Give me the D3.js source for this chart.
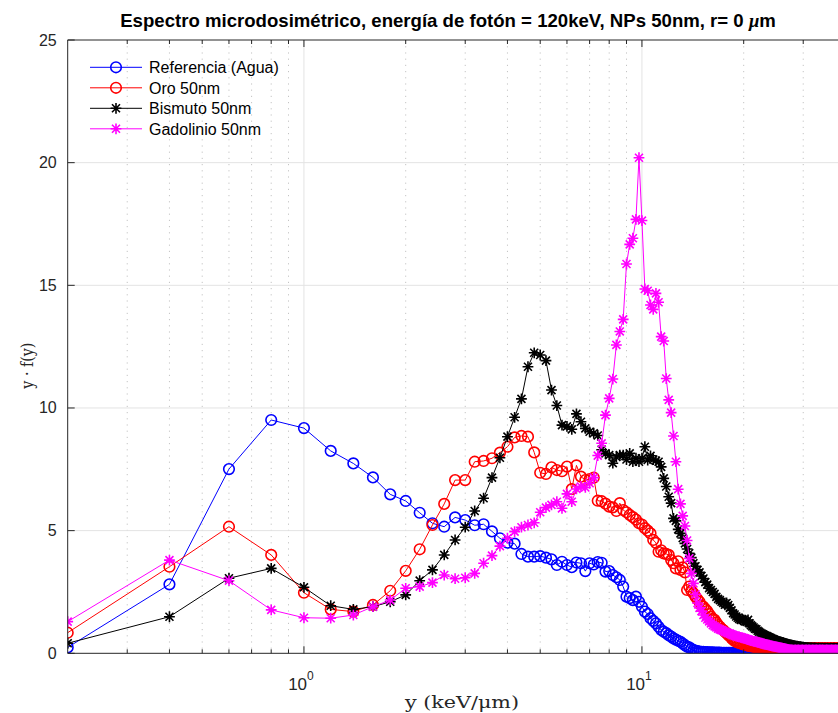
<!DOCTYPE html>
<html>
<head>
<meta charset="utf-8">
<script src="https://cdn.jsdelivr.net/npm/d3@7/dist/d3.min.js"></script>
<style>
  html, body { margin: 0; padding: 0; background: #ffffff; }
  svg { display: block; }
</style>
</head>
<body>
<svg id="chart" width="838" height="713"></svg>
<script>
// Lineal energy bins: 0.2 keV/µm wide, starting at 0.2
const binWidth = 0.2;
const binCount = 200;
const lineal = d3.range(1, binCount + 1).map(k => +(k * binWidth).toFixed(1));

// y·f(y) for each bin
const referenciaAgua = [
  0.24, 2.81, 7.51, 9.51, 9.18, 8.25, 7.74, 7.17, 6.48, 6.21,
  5.73, 5.30, 5.16, 5.54, 5.43, 5.22, 5.26, 4.97, 4.69, 4.51,
  4.47, 4.05, 3.94, 3.94, 3.96, 3.90, 3.83, 3.60, 3.73, 3.60,
  3.51, 3.70, 3.67, 3.35, 3.67, 3.62, 3.72, 3.69, 3.33, 3.35,
  3.19, 3.10, 2.99, 2.72, 2.31, 2.25, 2.17, 2.31, 2.10, 1.90,
  1.70, 1.60, 1.43, 1.32, 1.22, 1.08, 0.95, 0.88, 0.82, 0.74,
  0.68, 0.61, 0.56, 0.51, 0.47, 0.40, 0.33, 0.27, 0.24, 0.18,
  0.13, 0.11, 0.09, 0.07, 0.06, 0.06, 0.05, 0.05, 0.04, 0.04,
  0.04, 0.03, 0.03, 0.03, 0.03, 0.02, 0.02, 0.02, 0.02, 0.02,
  0.02, 0.02, 0.01, 0.02, 0.01, 0.01, 0.01, 0.01, 0.01, 0.01,
  0.01, 0.01, 0.01, 0.00, 0.01, 0.01, 0.00, 0.01, 0.00, 0.00,
  0.01, 0.00, 0.00, 0.00, 0.01, 0.00, 0.00, 0.00, 0.00, 0.00,
  0.00, 0.00, 0.00, 0.00, 0.00, 0.00, 0.00, 0.00, 0.00, 0.00,
  0.00, 0.00, 0.00, 0.00, 0.00, 0.00, 0.00, 0.00, 0.00, 0.00,
  0.00, 0.00, 0.00, 0.00, 0.00, 0.00, 0.00, 0.00, 0.00, 0.00,
  0.00, 0.00, 0.00, 0.00, 0.00, 0.00, 0.00, 0.00, 0.00, 0.00,
  0.00, 0.00, 0.00, 0.00, 0.00, 0.00, 0.00, 0.00, 0.00, 0.00,
  0.00, 0.00, 0.00, 0.00, 0.00, 0.00, 0.00, 0.00, 0.00, 0.00,
  0.00, 0.00, 0.00, 0.00, 0.00, 0.00, 0.00, 0.00, 0.00, 0.00,
  0.00, 0.00, 0.00, 0.00, 0.00, 0.00, 0.00, 0.00, 0.00, 0.00
];

const oro50 = [
  0.84, 3.53, 5.16, 4.01, 2.47, 1.79, 1.70, 1.97, 2.55, 3.36,
  4.24, 5.23, 6.09, 7.06, 7.06, 7.81, 7.84, 7.95, 8.18, 8.42,
  8.80, 8.86, 8.83, 8.19, 7.36, 7.31, 7.58, 7.47, 7.42, 7.61,
  6.69, 7.66, 7.20, 7.06, 7.10, 7.16, 6.22, 6.20, 6.10, 5.98,
  5.95, 5.80, 6.12, 5.84, 5.75, 5.64, 5.55, 5.45, 5.30, 5.25,
  5.10, 5.00, 4.89, 4.62, 4.50, 4.14, 4.20, 4.07, 4.05, 4.01,
  3.80, 3.67, 3.46, 3.75, 3.40, 3.50, 3.30, 2.58, 2.72, 2.55,
  2.45, 2.31, 2.20, 2.10, 1.95, 1.90, 1.80, 1.72, 1.60, 1.50,
  1.40, 1.36, 1.25, 1.15, 1.08, 1.00, 0.95, 0.88, 0.82, 0.75,
  0.70, 0.62, 0.55, 0.50, 0.47, 0.44, 0.42, 0.40, 0.38, 0.36,
  0.34, 0.33, 0.31, 0.30, 0.29, 0.28, 0.27, 0.26, 0.25, 0.25,
  0.24, 0.23, 0.23, 0.22, 0.22, 0.21, 0.21, 0.21, 0.20, 0.20,
  0.20, 0.21, 0.20, 0.19, 0.20, 0.20, 0.21, 0.20, 0.19, 0.20,
  0.20, 0.19, 0.20, 0.21, 0.20, 0.19, 0.20, 0.20, 0.21, 0.20,
  0.19, 0.20, 0.20, 0.21, 0.20, 0.20, 0.19, 0.20, 0.20, 0.21,
  0.20, 0.20, 0.19, 0.20, 0.21, 0.20, 0.20, 0.19, 0.20, 0.20,
  0.21, 0.20, 0.19, 0.20, 0.20, 0.20, 0.21, 0.20, 0.19, 0.20,
  0.20, 0.20, 0.21, 0.20, 0.19, 0.20, 0.20, 0.20, 0.19, 0.20,
  0.20, 0.21, 0.20, 0.20, 0.19, 0.20, 0.20, 0.20, 0.21, 0.20,
  0.20, 0.19, 0.20, 0.20, 0.20, 0.21, 0.20, 0.19, 0.20, 0.20
];

const bismuto50 = [
  0.41, 1.49, 3.06, 3.46, 2.69, 1.94, 1.79, 1.90, 2.10, 2.38,
  2.96, 3.40, 4.01, 4.62, 5.14, 5.80, 6.32, 7.16, 7.97, 8.83,
  9.62, 10.37, 11.68, 12.25, 12.16, 11.93, 10.73, 10.10, 9.30, 9.25,
  9.13, 9.76, 9.44, 9.17, 9.03, 8.97, 8.88, 8.30, 8.15, 8.08,
  7.75, 8.00, 8.08, 8.08, 7.90, 8.15, 7.81, 7.95, 7.81, 7.95,
  8.42, 7.88, 8.05, 7.90, 7.85, 7.81, 7.60, 7.13, 6.80, 6.38,
  6.12, 5.50, 5.40, 5.05, 4.89, 4.70, 4.48, 4.25, 4.08, 3.90,
  3.67, 3.55, 3.40, 3.30, 3.15, 3.05, 2.90, 2.80, 2.65, 2.58,
  2.50, 2.42, 2.30, 2.22, 2.17, 2.10, 2.05, 1.98, 2.05, 1.97,
  1.85, 1.75, 1.63, 1.58, 1.50, 1.45, 1.40, 1.36, 1.40, 1.36,
  1.30, 1.28, 1.36, 1.22, 1.15, 1.10, 1.05, 1.00, 0.98, 0.92,
  0.88, 0.84, 0.80, 0.77, 0.74, 0.72, 0.70, 0.67, 0.65, 0.63,
  0.60, 0.58, 0.56, 0.53, 0.51, 0.50, 0.48, 0.47, 0.45, 0.44,
  0.43, 0.41, 0.40, 0.38, 0.37, 0.36, 0.35, 0.34, 0.33, 0.32,
  0.31, 0.30, 0.29, 0.29, 0.28, 0.27, 0.27, 0.26, 0.25, 0.25,
  0.24, 0.24, 0.23, 0.23, 0.23, 0.22, 0.22, 0.22, 0.22, 0.21,
  0.21, 0.22, 0.21, 0.21, 0.20, 0.21, 0.21, 0.20, 0.21, 0.20,
  0.21, 0.20, 0.20, 0.21, 0.20, 0.20, 0.21, 0.20, 0.20, 0.20,
  0.21, 0.20, 0.20, 0.20, 0.21, 0.20, 0.20, 0.20, 0.20, 0.21,
  0.20, 0.20, 0.20, 0.20, 0.21, 0.20, 0.20, 0.20, 0.20, 0.20
];

const gadolinio50 = [
  1.29, 3.80, 2.96, 1.77, 1.45, 1.43, 1.56, 1.90, 2.17, 2.65,
  2.72, 2.88, 3.19, 3.04, 3.08, 3.26, 3.67, 3.98, 4.37, 4.69,
  4.96, 5.14, 5.23, 5.32, 5.75, 5.94, 6.05, 6.18, 5.91, 6.50,
  6.18, 6.70, 6.80, 6.76, 6.93, 7.16, 8.06, 8.56, 9.71, 10.39,
  11.18, 12.57, 13.12, 13.61, 15.87, 16.67, 16.92, 17.69, 20.20, 17.64,
  14.85, 14.78, 14.20, 14.02, 14.67, 14.31, 12.91, 12.73, 11.20, 10.33,
  9.81, 8.86, 7.81, 6.69, 6.09, 5.60, 5.19, 4.60, 3.87, 3.26,
  2.85, 2.40, 2.05, 1.85, 1.72, 1.56, 1.45, 1.38, 1.30, 1.22,
  1.15, 1.10, 1.05, 1.00, 0.97, 0.95, 0.92, 0.88, 0.85, 0.82,
  0.80, 0.77, 0.74, 0.72, 0.70, 0.68, 0.67, 0.65, 0.63, 0.62,
  0.60, 0.58, 0.56, 0.54, 0.52, 0.51, 0.49, 0.48, 0.47, 0.45,
  0.44, 0.42, 0.41, 0.39, 0.38, 0.36, 0.35, 0.34, 0.33, 0.31,
  0.30, 0.29, 0.28, 0.27, 0.26, 0.25, 0.24, 0.23, 0.22, 0.21,
  0.20, 0.19, 0.18, 0.17, 0.16, 0.15, 0.14, 0.14, 0.14, 0.13,
  0.13, 0.14, 0.13, 0.13, 0.14, 0.13, 0.13, 0.13, 0.14, 0.13,
  0.13, 0.13, 0.14, 0.13, 0.13, 0.14, 0.13, 0.13, 0.13, 0.14,
  0.13, 0.13, 0.13, 0.14, 0.13, 0.13, 0.13, 0.14, 0.13, 0.13,
  0.14, 0.13, 0.13, 0.13, 0.13, 0.14, 0.13, 0.13, 0.13, 0.13,
  0.13, 0.14, 0.13, 0.13, 0.13, 0.13, 0.14, 0.13, 0.13, 0.13,
  0.13, 0.13, 0.13, 0.14, 0.13, 0.13, 0.13, 0.13, 0.13, 0.13
];

const seriesNames = ["Referencia (Agua)", "Oro 50nm", "Bismuto 50nm", "Gadolinio 50nm"];
const seriesColors = ["#0000ff", "#ff0000", "#000000", "#ff00ff"];
const seriesMarkers = ["circle", "circle", "star", "star"];
const seriesValues = [referenciaAgua, oro50, bismuto50, gadolinio50];

const yTicks = [0, 5, 10, 15, 20, 25];
const xMajorTicks = [1, 10];

const titleText = "Espectro microdosimétrico, energía de fotón = 120keV, NPs 50nm, r= 0  ";
const xLabelText = "y (keV/μm)";
const yLabelText = "y · f(y)";

(function draw() {
  // ---- layout ----
  const plotLeft = 67.7, plotTop = 40, plotBottom = 653.3;
  const decade = 338;
  const xMin = 0.2, xMax = 100;
  const plotRight = plotLeft + decade * Math.log10(xMax / xMin);

  const x = d3.scaleLog().domain([xMin, xMax]).range([plotLeft, plotRight]);
  const y = d3.scaleLinear().domain([0, 25]).range([plotBottom, plotTop]);

  const svg = d3.select("#chart");
  const axisColor = "#262626";
  const sans = "'Liberation Sans', Arial, Helvetica, sans-serif";
  const serif = "'DejaVu Serif', 'Liberation Serif', serif";

  svg.append("defs").append("clipPath").attr("id", "plotClip")
    .append("rect").attr("x", plotLeft).attr("y", plotTop)
    .attr("width", plotRight - plotLeft).attr("height", plotBottom - plotTop);

  // minor ticks of the log axis (2..9 in each decade)
  const minorTicks = [];
  for (let p = -1; p <= 1; p++) {
    for (let m = 2; m <= 9; m++) {
      const v = m * Math.pow(10, p);
      if (v > xMin && v < xMax) minorTicks.push(v);
    }
  }

  const grid = svg.append("g");
  grid.selectAll("line.minor").data(minorTicks).enter().append("line")
    .attr("x1", d => x(d)).attr("x2", d => x(d))
    .attr("y1", plotTop).attr("y2", plotBottom)
    .attr("stroke", "#c4c4c4").attr("stroke-width", 1)
    .attr("stroke-dasharray", "1.2,5");
  grid.selectAll("line.major").data(xMajorTicks).enter().append("line")
    .attr("x1", d => x(d)).attr("x2", d => x(d))
    .attr("y1", plotTop).attr("y2", plotBottom)
    .attr("stroke", "#e3e3e3").attr("stroke-width", 1);
  grid.selectAll("line.h").data(yTicks.slice(1, -1)).enter().append("line")
    .attr("x1", plotLeft).attr("x2", plotRight)
    .attr("y1", d => y(d)).attr("y2", d => y(d))
    .attr("stroke", "#e3e3e3").attr("stroke-width", 1);

  // ---- series ----
  const plot = svg.append("g").attr("clip-path", "url(#plotClip)");
  const lineGen = d3.line().x(d => x(d[0])).y(d => y(d[1]));

  function starPath(r) {
    const d = r * 0.74;
    return `M${-r},0L${r},0M0,${-r}L0,${r}M${-d},${-d}L${d},${d}M${-d},${d}L${d},${-d}`;
  }

  function drawMarker(g, type, color) {
    if (type === "circle") {
      g.append("circle").attr("r", 5.3).attr("fill", "none")
        .attr("stroke", color).attr("stroke-width", 1.6);
    } else {
      g.append("path").attr("d", starPath(5.4)).attr("fill", "none")
        .attr("stroke", color).attr("stroke-width", 1.6);
    }
  }

  seriesValues.forEach((vals, s) => {
    const pts = vals.map((v, i) => [lineal[i], v]);
    const g = plot.append("g");
    g.append("path").datum(pts).attr("d", lineGen)
      .attr("fill", "none").attr("stroke", seriesColors[s]).attr("stroke-width", 1);
    g.selectAll("g.m").data(pts).enter().append("g")
      .attr("transform", d => `translate(${x(d[0])},${y(d[1])})`)
      .each(function () { drawMarker(d3.select(this), seriesMarkers[s], seriesColors[s]); });
  });

  // ---- axes box and ticks ----
  const axes = svg.append("g").attr("stroke", axisColor).attr("stroke-width", 1);
  axes.append("line").attr("x1", plotLeft).attr("x2", plotRight).attr("y1", plotBottom).attr("y2", plotBottom);
  axes.append("line").attr("x1", plotLeft).attr("x2", plotRight).attr("y1", plotTop).attr("y2", plotTop);
  axes.append("line").attr("x1", plotLeft).attr("x2", plotLeft).attr("y1", plotTop).attr("y2", plotBottom);

  xMajorTicks.forEach(v => {
    axes.append("line").attr("x1", x(v)).attr("x2", x(v)).attr("y1", plotBottom).attr("y2", plotBottom - 7);
    axes.append("line").attr("x1", x(v)).attr("x2", x(v)).attr("y1", plotTop).attr("y2", plotTop + 7);
  });
  minorTicks.forEach(v => {
    axes.append("line").attr("x1", x(v)).attr("x2", x(v)).attr("y1", plotBottom).attr("y2", plotBottom - 4);
    axes.append("line").attr("x1", x(v)).attr("x2", x(v)).attr("y1", plotTop).attr("y2", plotTop + 4);
  });
  yTicks.forEach(v => {
    axes.append("line").attr("x1", plotLeft).attr("x2", plotLeft + 7).attr("y1", y(v)).attr("y2", y(v));
  });

  // y tick labels
  svg.append("g").selectAll("text").data(yTicks).enter().append("text")
    .attr("x", plotLeft - 11).attr("y", d => y(d) + 5.5)
    .attr("text-anchor", "end").attr("font-family", sans).attr("font-size", 16)
    .attr("fill", axisColor).text(d => d);

  // x tick labels: 10^k
  const xl = svg.append("g");
  xMajorTicks.forEach(v => {
    const t = xl.append("text").attr("x", x(v) - 3).attr("y", 690)
      .attr("text-anchor", "middle").attr("font-family", sans).attr("font-size", 17)
      .attr("fill", axisColor);
    t.append("tspan").text("10");
    t.append("tspan").attr("dy", -10).attr("font-size", 12).text(String(Math.round(Math.log10(v))));
  });

  // axis labels
  svg.append("text").attr("x", 462).attr("y", 708)
    .attr("text-anchor", "middle").attr("font-family", serif).attr("font-size", 16)
    .attr("textLength", 114).attr("lengthAdjust", "spacingAndGlyphs")
    .attr("fill", axisColor).text(xLabelText);
  svg.append("text").attr("transform", `translate(33,${(plotTop + plotBottom) / 2 + 19}) rotate(-90)`)
    .attr("text-anchor", "middle").attr("font-family", serif).attr("font-size", 16)
    .attr("textLength", 46).attr("lengthAdjust", "spacingAndGlyphs")
    .attr("fill", axisColor).text(yLabelText);

  // title
  const title = svg.append("text").attr("x", 448).attr("y", 27)
    .attr("text-anchor", "middle").attr("font-family", sans).attr("font-size", 18.6)
    .attr("font-weight", "bold").attr("fill", "#000");
  title.append("tspan").text(titleText);
  title.append("tspan").attr("font-family", "'Liberation Serif', serif").attr("font-style", "italic").text("μ");
  title.append("tspan").text("m");

  // ---- legend ----
  const legend = svg.append("g");
  seriesNames.forEach((name, s) => {
    const cy = 67.3 + s * 20.5;
    legend.append("line").attr("x1", 90).attr("x2", 142).attr("y1", cy).attr("y2", cy)
      .attr("stroke", seriesColors[s]).attr("stroke-width", 1);
    const mg = legend.append("g").attr("transform", `translate(116,${cy})`);
    drawMarker(mg, seriesMarkers[s], seriesColors[s]);
    legend.append("text").attr("x", 149).attr("y", cy + 5.8)
      .attr("font-family", sans).attr("font-size", 16).attr("fill", "#000").text(name);
  });
})();
</script>
</body>
</html>
